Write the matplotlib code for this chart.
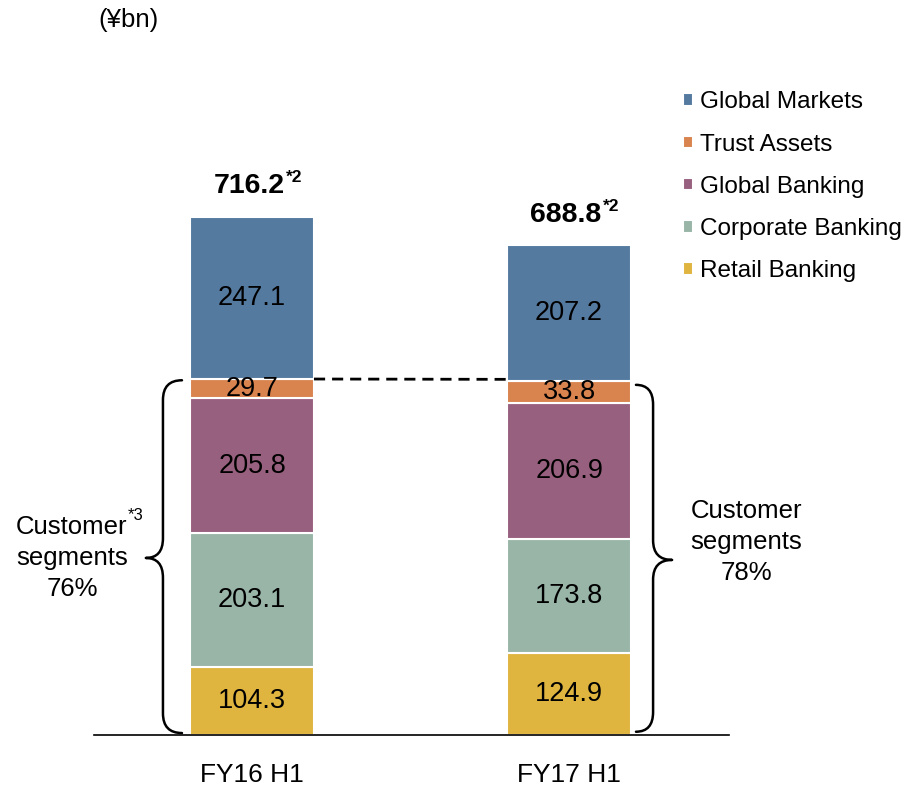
import numpy as np
import matplotlib
matplotlib.use("Agg")
import matplotlib.pyplot as plt
from matplotlib.path import Path
from matplotlib.patches import PathPatch

plt.rcParams["font.family"] = ["Liberation Sans", "DejaVu Sans"]

# data (¥bn)
periods = ["FY16 H1", "FY17 H1"]
segments = ["Retail Banking", "Corporate Banking", "Global Banking", "Trust Assets", "Global Markets"]
retail = [104.3, 124.9]
corporate = [203.1, 173.8]
global_banking = [205.8, 206.9]
trust = [29.7, 33.8]
global_markets = [247.1, 207.2]
totals = ["716.2", "688.8"]
customer_share = ["76%", "78%"]

colors = ["#dfb43f", "#98b5a8", "#98607f", "#d9834f", "#557aa0"]

fig = plt.figure(figsize=(9.01, 7.88), dpi=100)
ax = fig.add_axes([0, 0, 1, 1])
ax.set_xlim(-0.795, 2.047)
ax.set_ylim(-80.8, 1120.9)
ax.axis("off")

x = np.arange(len(periods))
w = 0.391
series = [retail, corporate, global_banking, trust, global_markets]
bottom = np.zeros(len(periods))
bars = []
for vals, c, name in zip(series, colors, segments):
    b = ax.bar(x, vals, w, bottom=bottom, color=c, edgecolor="white", linewidth=1.5, label=name)
    bars.append(b)
    for xi, v, b0 in zip(x, vals, bottom):
        ax.text(xi, b0 + v / 2, f"{v:.1f}", ha="center", va="center", fontsize=19.5, color="black")
    bottom = bottom + np.array(vals)

# totals
for xi, t, top in zip(x, totals, bottom):
    ax.text(xi + 0.103, top + 47, t, ha="right", va="center", fontsize=20.5, fontweight="bold")
    ax.text(xi + 0.106, top + 60, "*2", ha="left", va="center", fontsize=12.5, fontweight="bold")

# baseline
ax.plot([-0.5, 1.505], [0, 0], color="black", lw=1.2)

# dashed line between trust tops
cust_top = np.array(retail) + np.array(corporate) + np.array(global_banking) + np.array(trust)
ax.plot([x[0] + w / 2, x[1] - w / 2], [cust_top[0], cust_top[0] - 0.5], color="black",
        lw=2, dashes=(4, 2.5))


def brace(ex, vx, tx, y0, y1, ym, r=30):
    # curly brace, ends at ex, spine at vx, tip at tx
    verts = [(ex, y1),
             (vx, y1), (vx, y1 - r),
             (vx, ym + r),
             (vx, ym), (tx, ym),
             (vx, ym), (vx, ym - r),
             (vx, y0 + r),
             (vx, y0), (ex, y0)]
    codes = [Path.MOVETO,
             Path.CURVE3, Path.CURVE3,
             Path.LINETO,
             Path.CURVE3, Path.CURVE3,
             Path.CURVE3, Path.CURVE3,
             Path.LINETO,
             Path.CURVE3, Path.CURVE3]
    ax.add_patch(PathPatch(Path(verts, codes), fill=False, lw=1.8, edgecolor="black",
                           capstyle="round", joinstyle="round"))


brace(-0.221, -0.281, -0.335, 3, 541, 270)
brace(1.211, 1.265, 1.325, 5, 534, 267)

ax.text(-0.568, 270, "Customer\nsegments\n" + customer_share[0], ha="center", va="center",
        fontsize=18.5, linespacing=1.38)
ax.text(-0.392, 335, "*3", ha="left", va="center", fontsize=12)
ax.text(1.56, 294, "Customer\nsegments\n" + customer_share[1], ha="center", va="center",
        fontsize=18.5, linespacing=1.38)

for xi, p in zip(x, periods):
    ax.text(xi, -61, p, ha="center", va="center", fontsize=19)

fig.text(0.109, 0.975, "(¥bn)", ha="left", va="center", fontsize=18.5)

leg = ax.legend(handles=bars[::-1], loc="upper left", bbox_to_anchor=(0.758, 0.884),
                bbox_transform=fig.transFigure, frameon=False, fontsize=17.5,
                handlelength=0.42, handleheight=0.42, handletextpad=0.3,
                labelspacing=0.83, borderaxespad=0, borderpad=0)

fig.savefig("out.png", dpi=100)
